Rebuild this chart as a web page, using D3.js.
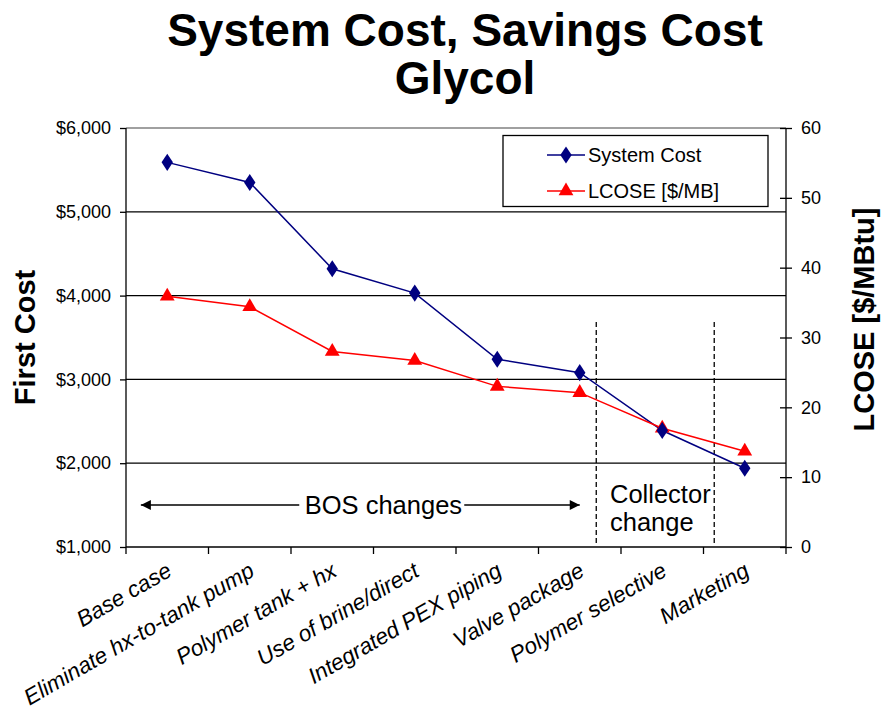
<!DOCTYPE html>
<html>
<head>
<meta charset="utf-8">
<script src="https://cdn.jsdelivr.net/npm/d3@7/dist/d3.min.js"></script>
<style>
  html, body { margin: 0; padding: 0; background: #fff; }
  svg { display: block; font-family: Arial, "Liberation Sans", sans-serif; }
</style>
</head>
<body>
<svg id="chart" width="883" height="711"></svg>
<script>
// Upgrade steps and the two series
const categories = [
  "Base case",
  "Eliminate hx-to-tank pump",
  "Polymer tank + hx",
  "Use of brine/direct",
  "Integrated PEX piping",
  "Valve package",
  "Polymer selective",
  "Marketing"
];
const systemCost = [5590, 5350, 4320, 4030, 3240, 3080, 2390, 1940];   // First cost, $
const lcose = [35.9, 34.4, 28.0, 26.7, 23.0, 22.1, 17.0, 13.7];        // $/MBtu

const costTicks = [1000, 2000, 3000, 4000, 5000, 6000];
const lcoseTicks = [0, 10, 20, 30, 40, 50, 60];

const titleLines = ["System Cost, Savings Cost", "Glycol"];
const seriesNames = ["System Cost", "LCOSE [$/MB]"];

// Annotation positions along the category index (0 = first category centre)
const groupDividers = [5.2, 6.63];
const bosArrow = { from: -0.32, to: 5.0, gapFrom: 1.6, gapTo: 3.6, labelAt: 2.62 };

const svg = d3.select("#chart");
const W = 883, H = 711;
const m = { left: 126, right: 97, top: 128, bottom: 164 };
const x0 = m.left, x1 = W - m.right, y0 = m.top, y1 = H - m.bottom;

svg.append("rect").attr("width", W).attr("height", H).attr("fill", "#fff");

const xBand = d3.scaleBand().domain(categories).range([x0, x1]).paddingInner(0).paddingOuter(0);
const xIdx = d3.scaleLinear().domain([0, 1]).range([x0 + xBand.bandwidth() / 2, x0 + xBand.bandwidth() * 1.5]);
const yCost = d3.scaleLinear().domain([1000, 6000]).range([y1, y0]);
const yL = d3.scaleLinear().domain([0, 60]).range([y1, y0]);

// Title
svg.append("g").selectAll("text").data(titleLines).join("text")
  .attr("x", 465).attr("y", (d, i) => 46 + i * 48)
  .attr("text-anchor", "middle")
  .attr("font-size", 46).attr("font-weight", "bold")
  .text(d => d);

// Horizontal gridlines
svg.append("g").selectAll("line").data(costTicks.filter(t => t > 1000)).join("line")
  .attr("x1", x0).attr("x2", x1)
  .attr("y1", d => yCost(d)).attr("y2", d => yCost(d))
  .attr("stroke", d => d === 6000 ? "#808080" : "#000")
  .attr("stroke-width", 1.3);

// Left axis
const gl = svg.append("g").attr("transform", `translate(${x0},0)`)
  .call(d3.axisLeft(yCost).tickValues(costTicks).tickSize(6).tickPadding(9)
    .tickFormat(d => "$" + d3.format(",")(d)));
gl.select(".domain").attr("stroke", "#000").attr("stroke-width", 1.3).attr("d", `M0,${y0}V${y1}`);
gl.selectAll(".tick line").attr("stroke-width", 1.3);
gl.selectAll("text").attr("font-size", 18).attr("font-family", "Arial, 'Liberation Sans', sans-serif").attr("fill", "#000");

// Right axis (ticks cross the axis)
const gr = svg.append("g").attr("transform", `translate(${x1},0)`)
  .call(d3.axisRight(yL).tickValues(lcoseTicks).tickSize(6).tickPadding(9));
gr.select(".domain").attr("stroke", "#000").attr("stroke-width", 1.3).attr("d", `M0,${y0}V${y1}`);
gr.selectAll(".tick line").attr("x1", -6).attr("stroke-width", 1.3);
gr.selectAll("text").attr("font-size", 18).attr("font-family", "Arial, 'Liberation Sans', sans-serif").attr("fill", "#000");

// Bottom axis with ticks between categories
const gb = svg.append("g").attr("transform", `translate(0,${y1})`);
gb.append("line").attr("x1", x0).attr("x2", x1).attr("stroke", "#000").attr("stroke-width", 1.3);
const boundaries = categories.map(c => xBand(c)).concat([x1]);
gb.selectAll("line.tk").data(boundaries).join("line").attr("class", "tk")
  .attr("x1", d => d).attr("x2", d => d).attr("y1", 0).attr("y2", 7)
  .attr("stroke", "#000").attr("stroke-width", 1.3);
gb.selectAll("text").data(categories).join("text")
  .attr("transform", d => `translate(${xBand(d) + xBand.bandwidth() / 2 + 6},${28}) rotate(-30)`)
  .attr("text-anchor", "end")
  .attr("font-size", 22.5).attr("font-style", "italic")
  .text(d => d);

// Axis titles
svg.append("text")
  .attr("transform", `translate(35,${(y0 + y1) / 2}) rotate(-90)`)
  .attr("text-anchor", "middle").attr("font-size", 29).attr("font-weight", "bold")
  .text("First Cost");
svg.append("text")
  .attr("transform", `translate(874,${(y0 + y1) / 2 - 18}) rotate(-90)`)
  .attr("text-anchor", "middle").attr("font-size", 29).attr("font-weight", "bold")
  .text("LCOSE [$/MBtu]");

// Group dividers
svg.append("g").selectAll("line").data(groupDividers).join("line")
  .attr("x1", d => xIdx(d)).attr("x2", d => xIdx(d))
  .attr("y1", 322).attr("y2", y1 - 2)
  .attr("stroke", "#000").attr("stroke-width", 1.3).attr("stroke-dasharray", "5,3");

// BOS arrow
const defs = svg.append("defs");
defs.append("marker").attr("id", "ah").attr("viewBox", "0 0 10 10")
  .attr("refX", 10).attr("refY", 5).attr("markerWidth", 14).attr("markerHeight", 10)
  .attr("markerUnits", "userSpaceOnUse").attr("orient", "auto")
  .append("path").attr("d", "M0,0L10,5L0,10Z").attr("fill", "#000");
const ay = 505;
svg.append("line").attr("x1", xIdx(bosArrow.gapFrom)).attr("x2", xIdx(bosArrow.from))
  .attr("y1", ay).attr("y2", ay).attr("stroke", "#000").attr("stroke-width", 1.3).attr("marker-end", "url(#ah)");
svg.append("line").attr("x1", xIdx(bosArrow.gapTo)).attr("x2", xIdx(bosArrow.to))
  .attr("y1", ay).attr("y2", ay).attr("stroke", "#000").attr("stroke-width", 1.3).attr("marker-end", "url(#ah)");
svg.append("text").attr("x", xIdx(bosArrow.labelAt)).attr("y", ay + 9)
  .attr("text-anchor", "middle").attr("font-size", 25.5).text("BOS changes");
svg.append("g").selectAll("text").data(["Collector", "change"]).join("text")
  .attr("x", 610).attr("y", (d, i) => 503 + i * 28)
  .attr("font-size", 25.5).text(d => d);

// Series
const diamond = d3.symbol().type(d3.symbolDiamond).size(85);
const tri = d3.symbol().type(d3.symbolTriangle).size(95);
const cx = (d, i) => xBand(categories[i]) + xBand.bandwidth() / 2;

svg.append("path").datum(systemCost)
  .attr("d", d3.line().x(cx).y(d => yCost(d)))
  .attr("fill", "none").attr("stroke", "#000080").attr("stroke-width", 1.5);
svg.append("path").datum(lcose)
  .attr("d", d3.line().x(cx).y(d => yL(d)))
  .attr("fill", "none").attr("stroke", "#ff0000").attr("stroke-width", 1.5);

svg.append("g").selectAll("path").data(lcose).join("path")
  .attr("transform", (d, i) => `translate(${cx(d, i)},${yL(d)})`)
  .attr("d", tri).attr("fill", "#ff0000");
svg.append("g").selectAll("path").data(systemCost).join("path")
  .attr("transform", (d, i) => `translate(${cx(d, i)},${yCost(d)}) scale(1.15,1)`)
  .attr("d", diamond).attr("fill", "#000080");

// Legend
const lg = svg.append("g");
lg.append("rect").attr("x", 503).attr("y", 135.5).attr("width", 265).attr("height", 71)
  .attr("fill", "#fff").attr("stroke", "#000").attr("stroke-width", 1.3);
const rows = [
  { name: seriesNames[0], color: "#000080", sym: diamond, sx: 1.15, y: 155 },
  { name: seriesNames[1], color: "#ff0000", sym: tri, sx: 1, y: 191 }
];
rows.forEach(r => {
  lg.append("line").attr("x1", 547).attr("x2", 585).attr("y1", r.y).attr("y2", r.y)
    .attr("stroke", r.color).attr("stroke-width", 1.5);
  lg.append("path").attr("transform", `translate(566,${r.y}) scale(${r.sx},1)`).attr("d", r.sym).attr("fill", r.color);
  lg.append("text").attr("x", 588).attr("y", r.y).attr("dy", "0.35em")
    .attr("font-size", 20).text(r.name);
});
</script>
</body>
</html>
